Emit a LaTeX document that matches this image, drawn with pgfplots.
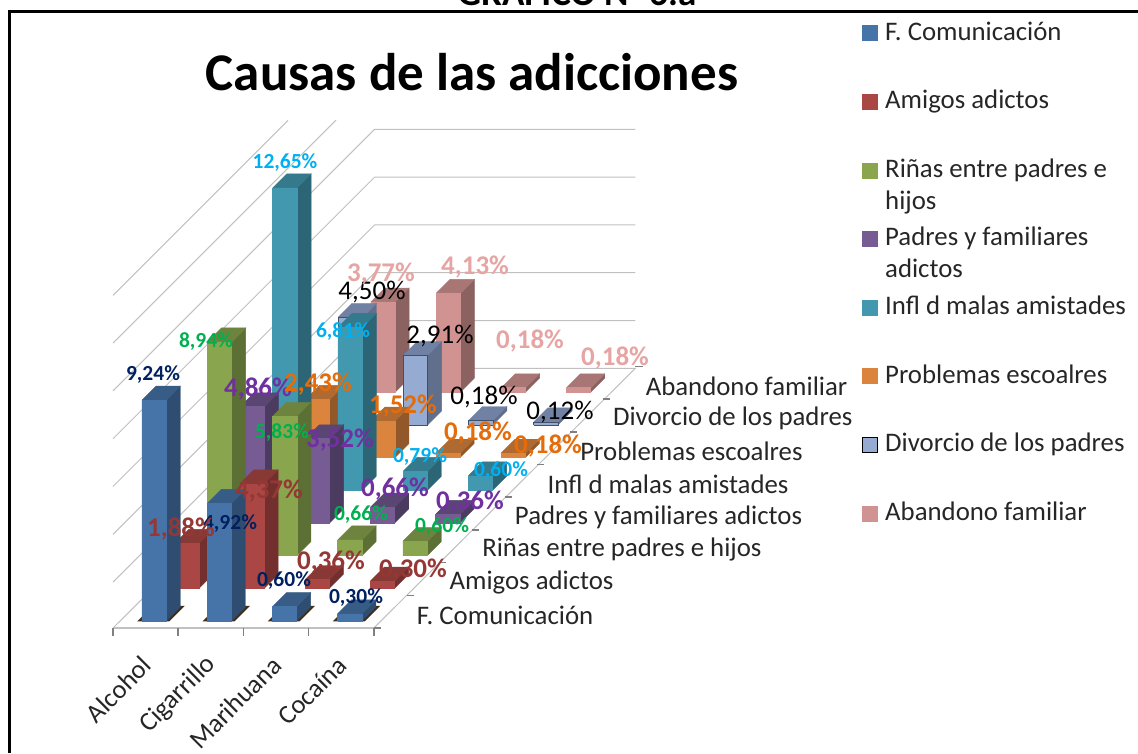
\documentclass[border=0pt]{standalone}
\usepackage{fontspec}
\setmainfont{Carlito}
\usepackage{pgfplots}
\pgfplotsset{compat=1.18}
\newcommand\fs[1]{\fontsize{#1}{#1}\selectfont}
% series colours: front (F), top (T), side (S), edge (E)
\definecolor{aF}{HTML}{4674A8}\definecolor{aT}{HTML}{375D87}\definecolor{aS}{HTML}{2F4D70}\definecolor{aE}{HTML}{4674A8}
\definecolor{bF}{HTML}{AA4643}\definecolor{bT}{HTML}{883835}\definecolor{bS}{HTML}{722F2D}\definecolor{bE}{HTML}{AA4643}
\definecolor{cF}{HTML}{89A54E}\definecolor{cT}{HTML}{6E843E}\definecolor{cS}{HTML}{5C6F34}\definecolor{cE}{HTML}{89A54E}
\definecolor{dF}{HTML}{775B93}\definecolor{dT}{HTML}{5A4672}\definecolor{dS}{HTML}{4B3B60}\definecolor{dE}{HTML}{775B93}
\definecolor{eF}{HTML}{4198AF}\definecolor{eT}{HTML}{347A8C}\definecolor{eS}{HTML}{2C6676}\definecolor{eE}{HTML}{4198AF}
\definecolor{fF}{HTML}{DB843D}\definecolor{fT}{HTML}{AF6A31}\definecolor{fS}{HTML}{935829}\definecolor{fE}{HTML}{DB843D}
\definecolor{gF}{HTML}{95ABD2}\definecolor{gT}{HTML}{7081A3}\definecolor{gS}{HTML}{5F6F8C}\definecolor{gE}{HTML}{3F4F6C}
\definecolor{hF}{HTML}{D19392}\definecolor{hT}{HTML}{A77675}\definecolor{hS}{HTML}{8C6261}\definecolor{hE}{HTML}{D19392}
\definecolor{gridc}{HTML}{C0C0C0}
\definecolor{lA}{HTML}{002060}\definecolor{lB}{HTML}{953735}\definecolor{lC}{HTML}{00B050}
\definecolor{lD}{HTML}{7030A0}\definecolor{lE}{HTML}{00B0F0}\definecolor{lF}{HTML}{E46C0A}
\definecolor{lH}{HTML}{E6A5A3}
% cuboid: category, series, value, colour prefix
\newcommand\cub[4]{%
  \pgfmathsetmacro\xa{#1+0.337}\pgfmathsetmacro\xb{#1+0.71}%
  \pgfmathsetmacro\ya{#2+0.214}\pgfmathsetmacro\yb{#2+0.642}%
  \addplot3[fill=#4S,draw=#4S,line width=.4pt] coordinates {(\xb,\ya,0) (\xb,\yb,0) (\xb,\yb,#3) (\xb,\ya,#3) (\xb,\ya,0)};
  \addplot3[fill=#4T,draw=#4T,line width=.4pt] coordinates {(\xa,\ya,#3) (\xb,\ya,#3) (\xb,\yb,#3) (\xa,\yb,#3) (\xa,\ya,#3)};
  \addplot3[fill=#4F,draw=#4E,line width=.6pt] coordinates {(\xa,\ya,0) (\xb,\ya,0) (\xb,\ya,#3) (\xa,\ya,#3) (\xa,\ya,0)};
}
\newcommand\shad[1]{%
  \pgfmathsetmacro\xa{#1+0.27}\pgfmathsetmacro\xb{#1+0.76}%
  \addplot3[fill=black!65!brown,draw=none] coordinates {(\xa,0.2,0) (\xb,0.2,0) (\xb,0.68,0) (\xa,0.68,0) (\xa,0.2,0)};
}
\begin{document}
\begin{tikzpicture}[x=1pt,y=1pt]
\useasboundingbox (0,0) rectangle (1138,753);
\clip (0,0) rectangle (1138,753);
\begin{axis}[
  at={(113pt,125pt)},anchor=origin,
  x={(65.2pt,0pt)},y={(32.7pt,32.7pt)},z={(0pt,23.9pt)},
  disabledatascaling,
  xmin=0,xmax=4,ymin=0,ymax=8,zmin=0,zmax=14,
  clip=false,
  axis x line*=bottom,axis y line*=right,axis z line*=left,
  axis line style={draw=none},
  tick style={draw=none},
  ztick=\empty,
  xtick={0.5,1.5,2.5,3.5},
  xticklabels={Alcohol,Cigarrillo,Marihuana,Cocaína},
  ytick={0.5,1.5,2.5,3.5,4.5,5.5,6.5,7.5},
  yticklabels={F. Comunicación,Amigos adictos,Riñas entre padres e hijos,Padres y familiares adictos,Infl d malas amistades,Problemas escoalres,Divorcio de los padres,Abandono familiar},
  x tick label style={rotate=45,anchor=east,font=\fs{26.5},text=black!85,xshift=-19pt,yshift=-24pt},
  y tick label style={anchor=west,font=\fs{26.8},text=black!85,xshift=284pt,yshift=-338pt},
]
% walls and floor
\addplot3[gridc,line width=1pt] coordinates {(0,0,13.92) (0,5.35,13.92)};
\addplot3[gridc,line width=1pt] coordinates {(0,0,11.92) (0,6.82,11.92)};
\addplot3[gridc,line width=1pt] coordinates {(0,0,9.92) (0,8,9.92) (4,8,9.92)};
\addplot3[gridc,line width=1pt] coordinates {(0,0,7.92) (0,8,7.92) (4,8,7.92)};
\addplot3[gridc,line width=1pt] coordinates {(0,0,5.92) (0,8,5.92) (4,8,5.92)};
\addplot3[gridc,line width=1pt] coordinates {(0,0,3.92) (0,8,3.92) (4,8,3.92)};
\addplot3[gridc,line width=1pt] coordinates {(0,0,1.92) (0,8,1.92) (4,8,1.92)};
\addplot3[gridc,line width=1pt] coordinates {(0,8,-0.08) (4,8,-0.08) (4,0,0)};
\addplot3[gridc,line width=1pt] coordinates {(0,0,0) (0,8,-0.08)};
\addplot3[gridc,line width=2pt] coordinates {(0,0,0) (4,0,0)};
% ticks
\addplot3[gray,line width=1.6pt] coordinates {(0,0,0) (0,0,-0.33)};
\addplot3[gray,line width=1.6pt] coordinates {(1,0,0) (1,0,-0.33)};
\addplot3[gray,line width=1.6pt] coordinates {(2,0,0) (2,0,-0.33)};
\addplot3[gray,line width=1.6pt] coordinates {(3,0,0) (3,0,-0.33)};
\addplot3[gray,line width=1.6pt] coordinates {(4,0,0) (4,0,-0.33)};
\addplot3[gray,line width=1.6pt] coordinates {(4,0,0) (4.11,0,0)};
\addplot3[gray,line width=1.6pt] coordinates {(4,1,0) (4.11,1,0)};
\addplot3[gray,line width=1.6pt] coordinates {(4,2,0) (4.11,2,0)};
\addplot3[gray,line width=1.6pt] coordinates {(4,3,0) (4.11,3,0)};
\addplot3[gray,line width=1.6pt] coordinates {(4,4,0) (4.11,4,0)};
\addplot3[gray,line width=1.6pt] coordinates {(4,5,0) (4.11,5,0)};
\addplot3[gray,line width=1.6pt] coordinates {(4,6,0) (4.11,6,0)};
\addplot3[gray,line width=1.6pt] coordinates {(4,7,0) (4.11,7,0)};
\addplot3[gray,line width=1.6pt] coordinates {(4,8,0) (4.11,8,0)};
% bars, back to front
\cub{0}{7}{3.77}{h}\cub{1}{7}{4.13}{h}\cub{2}{7}{0.18}{h}\cub{3}{7}{0.18}{h}
\cub{0}{6}{4.50}{g}\cub{1}{6}{2.91}{g}\cub{2}{6}{0.18}{g}\cub{3}{6}{0.12}{g}
\cub{0}{5}{2.43}{f}\cub{1}{5}{1.52}{f}\cub{2}{5}{0.18}{f}\cub{3}{5}{0.18}{f}
\cub{0}{4}{12.65}{e}\cub{1}{4}{6.81}{e}\cub{2}{4}{0.79}{e}\cub{3}{4}{0.60}{e}
\cub{0}{3}{4.86}{d}\cub{1}{3}{3.52}{d}\cub{2}{3}{0.66}{d}\cub{3}{3}{0.36}{d}
\cub{0}{2}{8.94}{c}\cub{1}{2}{5.83}{c}\cub{2}{2}{0.66}{c}\cub{3}{2}{0.60}{c}
\cub{0}{1}{1.88}{b}\cub{1}{1}{4.37}{b}\cub{2}{1}{0.36}{b}\cub{3}{1}{0.30}{b}
\shad{0}\shad{1}\shad{2}\shad{3}
\cub{0}{0}{9.24}{a}\cub{1}{0}{4.92}{a}\cub{2}{0}{0.60}{a}\cub{3}{0}{0.30}{a}
\end{axis}
\begin{axis}[
  at={(0pt,0pt)},anchor=south west,
  scale only axis,width=1138pt,height=753pt,
  xmin=0,xmax=1138,ymin=0,ymax=753,y dir=reverse,
  hide axis,clip=false,
  legend style={draw=none,fill=none,at={(862/1138,1-22/753)},anchor=north west,
    font=\fontsize{26.8}{32}\selectfont,text=black!85,inner sep=0pt,outer sep=0pt,
    column sep=7pt,row sep=0pt,
    nodes={inner sep=0pt,outer sep=0pt,text height=18pt,text depth=50.6pt,anchor=base west}},
  legend cell align=left,
  legend image code/.code={\draw[#1] (0pt,-0.5pt) rectangle (15pt,14.5pt);},
]
\addplot[black,line width=3pt,forget plot] coordinates {(9.5,753) (9.5,11) (1138,11)};
\node[font=\fs{53}\bfseries,text=black] at (axis cs:472,72) {Causas de las adicciones};
\node[font=\fs{37}\bfseries,text=black,anchor=base] at (axis cs:577,5) {GRÁFICO N° 6.a};
\addlegendimage{fill=aF,draw=aF}\addlegendentry{F. Comunicación}
\addlegendimage{fill=bF,draw=bF}\addlegendentry{Amigos adictos}
\addlegendimage{fill=cF,draw=cF}\addlegendentry{\parbox[t]{240pt}{Riñas entre padres e\\hijos}}
\addlegendimage{fill=dF,draw=dF}\addlegendentry{\parbox[t]{240pt}{Padres y familiares\\adictos}}
\addlegendimage{fill=eF,draw=eF}\addlegendentry{Infl d malas amistades}
\addlegendimage{fill=fF,draw=fF}\addlegendentry{Problemas escoalres}
\addlegendimage{fill=gF,draw=black,line width=1.2pt}\addlegendentry{Divorcio de los padres}
\addlegendimage{fill=hF,draw=hF}\addlegendentry{Abandono familiar}
% value labels
\newcommand\vl[5]{\node[font=\fs{#3}#4,text=#5,inner sep=0pt] at (axis cs:#1,#2)}
\vl{153}{375}{21.5}{\bfseries}{lA} {9,24\%};
\vl{230}{524}{21.5}{\bfseries}{lA} {4,92\%};
\vl{284}{581}{21.5}{\bfseries}{lA} {0,60\%};
\vl{356}{598}{21.5}{\bfseries}{lA} {0,30\%};
\vl{181}{529}{27}{\bfseries}{lB} {1,88\%};
\vl{269}{491}{27}{\bfseries}{lB} {4,37\%};
\vl{331}{562}{27}{\bfseries}{lB} {0,36\%};
\vl{413}{570}{27}{\bfseries}{lB} {0,30\%};
\vl{206}{342}{21.5}{\bfseries}{lC} {8,94\%};
\vl{282}{433}{21.5}{\bfseries}{lC} {5,83\%};
\vl{361}{515}{21.5}{\bfseries}{lC} {0,66\%};
\vl{442}{527}{21.5}{\bfseries}{lC} {0,60\%};
\vl{258}{389}{27}{\bfseries}{lD} {4,86\%};
\vl{340}{440}{27}{\bfseries}{lD} {3,52\%};
\vl{395}{489}{27}{\bfseries}{lD} {0,66\%};
\vl{470}{502}{27}{\bfseries}{lD} {0,36\%};
\vl{285}{163}{21.5}{\bfseries}{lE} {12,65\%};
\vl{343}{332}{21.5}{\bfseries}{lE} {6,81\%};
\vl{420}{457}{21.5}{\bfseries}{lE} {0,79\%};
\vl{501}{471}{21.5}{\bfseries}{lE} {0,60\%};
\vl{318}{384}{27}{\bfseries}{lF} {2,43\%};
\vl{403}{406}{27}{\bfseries}{lF} {1,52\%};
\vl{478}{433}{27}{\bfseries}{lF} {0,18\%};
\vl{548}{446}{27}{\bfseries}{lF} {0,18\%};
\vl{372}{292}{27}{}{black} {4,50\%};
\vl{440}{336}{27}{}{black} {2,91\%};
\vl{484}{397}{27}{}{black} {0,18\%};
\vl{560}{412}{27}{}{black} {0,12\%};
\vl{381}{274}{27}{\bfseries}{lH} {3,77\%};
\vl{475}{267}{27}{\bfseries}{lH} {4,13\%};
\vl{530}{341}{27}{\bfseries}{lH} {0,18\%};
\vl{615}{358}{27}{\bfseries}{lH} {0,18\%};
\end{axis}
\end{tikzpicture}
\end{document}
